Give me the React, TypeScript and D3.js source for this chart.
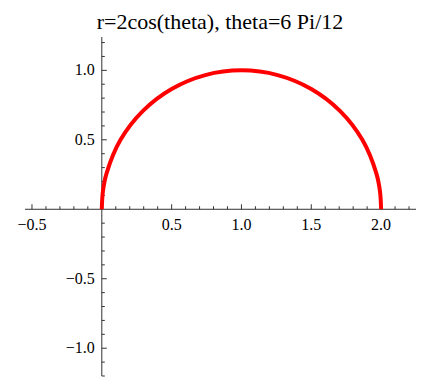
import React from "react";
import * as d3 from "d3";

// curve (x, y in plot units)
const curveX = [2, 1.992, 1.966, 1.866, 1.707, 1.5, 1.259, 1, 0.741, 0.5, 0.293, 0.134, 0.034, 0.008, 0];
const curveY = [0, 0.13, 0.259, 0.5, 0.707, 0.866, 0.966, 1, 0.966, 0.866, 0.707, 0.5, 0.259, 0.13, 0];

const xTickLabels = [-0.5, 0.5, 1.0, 1.5, 2.0];
const yTickLabels = [-1.0, -0.5, 0.5, 1.0];

const title = "r=2cos(theta), theta=6 Pi/12";

const W = 422;
const H = 378;
const FONT = "Liberation Serif";

const App = () => {
  const x = d3.scaleLinear().domain([-0.55, 2.25]).range([25, 416]);
  const y = d3.scaleLinear().domain([-1.2, 1.24]).range([376, 37]);

  const fmt = (v: number) => d3.format(".1f")(v).replace("-", "\u2212");

  const minorX = d3.range(-5, 23).map((i) => i / 10).filter((v) => Math.abs(v) > 1e-9);
  const minorY = d3.range(-12, 13).map((i) => i / 10).filter((v) => Math.abs(v) > 1e-9);
  const isMajor = (v: number) => Math.abs(v * 2 - Math.round(v * 2)) < 1e-9;

  const pts: [number, number][] = curveX.map((v, i) => [v, curveY[i]]);
  const line = d3
    .line<[number, number]>()
    .x((d) => x(d[0]))
    .y((d) => y(d[1]))
    .curve(d3.curveCatmullRom.alpha(0.5));

  const axisColor = "#333";

  return (
    <svg
      width={W}
      height={H}
      style={{ position: "absolute", left: 0, top: 0, background: "#fff" }}
    >
      <text x={220} y={29} textAnchor="middle" fontSize={22} fill="#000" style={{ fontFamily: FONT }}>
        {title}
      </text>

      {/* x axis */}
      <line x1={x(-0.55)} x2={x(2.25)} y1={y(0)} y2={y(0)} stroke={axisColor} strokeWidth={1} />
      {minorX.map((v) => (
        <line
          key={"xt" + v}
          x1={x(v)}
          x2={x(v)}
          y1={y(0)}
          y2={y(0) - (isMajor(v) ? 5 : 3)}
          stroke={axisColor}
          strokeWidth={1}
        />
      ))}
      {xTickLabels.map((v) => (
        <text
          key={"xl" + v}
          x={x(v)}
          y={y(0) + 21}
          textAnchor="middle"
          fontSize={16}
          fill="#000"
          style={{ fontFamily: FONT }}
        >
          {fmt(v)}
        </text>
      ))}

      {/* y axis */}
      <line x1={x(0)} x2={x(0)} y1={y(1.24)} y2={y(-1.2)} stroke={axisColor} strokeWidth={1} />
      {minorY.map((v) => (
        <line
          key={"yt" + v}
          x1={x(0)}
          x2={x(0) + (isMajor(v) ? 5 : 3)}
          y1={y(v)}
          y2={y(v)}
          stroke={axisColor}
          strokeWidth={1}
        />
      ))}
      {yTickLabels.map((v) => (
        <text
          key={"yl" + v}
          x={x(0) - 7}
          y={y(v) + 5}
          textAnchor="end"
          fontSize={16}
          fill="#000"
          style={{ fontFamily: FONT }}
        >
          {fmt(v)}
        </text>
      ))}

      <path d={line(pts) || ""} fill="none" stroke="#ff0000" strokeWidth={4} />
    </svg>
  );
};

export default App;
